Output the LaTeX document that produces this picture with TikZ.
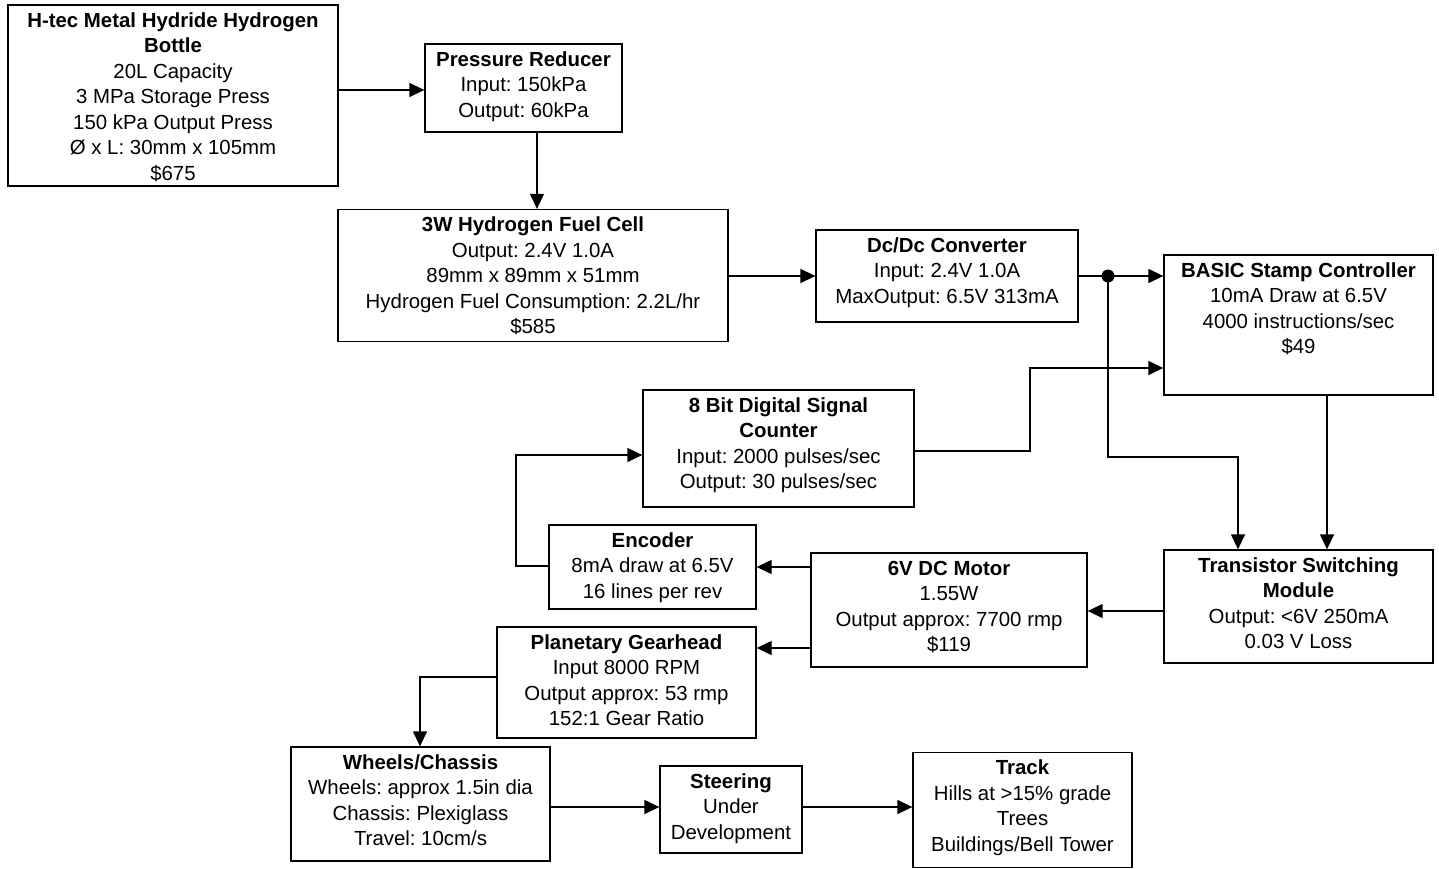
\documentclass[tikz,border=0pt]{standalone}
\usepackage{fontspec}
\setmainfont{Liberation Sans}
\usetikzlibrary{arrows.meta,calc}
\tikzset{
  box/.style={draw, line width=1.3pt, rectangle, inner sep=0pt},
  txt/.style={anchor=north, align=center, inner sep=0pt, font=\fontsize{20.4}{25.5}\selectfont\frenchspacing},
  arr/.style={line width=1.3pt, -{Triangle[length=15pt,width=14pt]}},
  wire/.style={line width=1.3pt}
}
\newcommand\mybox[6]{%
  \node[box, minimum width=#4, minimum height=#5] (#1) at (#2,#3) {};
  \node[txt] (#1-t) at ([yshift=-5pt]#1.north) {\strut #6};
}
\begin{document}
\begin{tikzpicture}[x=1pt,y=-1pt]
\useasboundingbox (0,0) rectangle (1439,869);
\mybox{bottle}{173}{95.5}{330}{181}{\textbf{H-tec Metal Hydride Hydrogen}\\\textbf{Bottle}\\20L Capacity\\3 MPa Storage Press\\150 kPa Output Press\\Ø x L: 30mm x 105mm\\\$675}
\mybox{pr}{523.5}{88}{197}{88}{\textbf{Pressure Reducer}\\Input: 150kPa\\Output: 60kPa}
\mybox{fc}{533}{275.5}{390}{132}{\textbf{3W Hydrogen Fuel Cell}\\Output: 2.4V 1.0A\\89mm x 89mm x 51mm\\Hydrogen Fuel Consumption: 2.2L/hr\\\$585}
\mybox{dc}{947}{276}{262}{92}{\textbf{Dc/Dc Converter}\\Input: 2.4V 1.0A\\MaxOutput: 6.5V 313mA}
\mybox{basic}{1298.5}{325}{269}{140}{\textbf{BASIC Stamp Controller}\\10mA Draw at 6.5V\\4000 instructions/sec\\\$49}
\mybox{cnt}{778.5}{448.5}{271}{117}{\textbf{8 Bit Digital Signal}\\\textbf{Counter}\\Input: 2000 pulses/sec\\Output: 30 pulses/sec}
\mybox{enc}{652.5}{567}{207}{84}{\textbf{Encoder}\\8mA draw at 6.5V\\16 lines per rev}
\mybox{motor}{949}{610}{276}{114}{\textbf{6V DC Motor}\\1.55W\\Output approx: 7700 rmp\\\$119}
\mybox{tsm}{1298.5}{606.5}{269}{113}{\textbf{Transistor Switching}\\\textbf{Module}\\Output: <6V 250mA\\0.03 V Loss}
\mybox{gear}{626.5}{682.5}{259}{111}{\textbf{Planetary Gearhead}\\Input 8000 RPM\\Output approx: 53 rmp\\152:1 Gear Ratio}
\mybox{wheels}{420.5}{804}{259}{114}{\textbf{Wheels/Chassis}\\Wheels: approx 1.5in dia\\Chassis: Plexiglass\\Travel: 10cm/s}
\mybox{steer}{731}{809.5}{142}{87}{\textbf{Steering}\\Under\\Development}
\mybox{track}{1022.5}{810}{219}{115}{\textbf{Track}\\Hills at >15\% grade\\Trees\\Buildings/Bell Tower}
% connectors
\draw[arr] (bottle.east |- 0,90) -- (pr.west |- 0,90);
\draw[arr] ([xshift=13.5pt]pr.south) -- ([xshift=13.5pt]pr.south |- fc.north);
\draw[arr] (fc.east |- 0,276) -- (dc.west |- 0,276);
\coordinate (j) at (1108,276);
\draw[arr] (dc.east |- 0,276) -- (basic.west |- 0,276);
\fill (j) circle (6.5pt);
\draw[arr] (j) -- (1108,457) -- (1238,457) -- (1238,0 |- tsm.north);
\draw[arr] (1327,0 |- basic.south) -- (1327,0 |- tsm.north);
\draw[arr] (tsm.west |- 0,611) -- (motor.east |- 0,611);
\draw[arr] (motor.west |- 0,567) -- (enc.east |- 0,567);
\draw[arr] (motor.west |- 0,648) -- (gear.east |- 0,648);
\draw[arr] (enc.west |- 0,566) -- (516,566) -- (516,455) -- (cnt.west |- 0,455);
\draw[arr] (cnt.east |- 0,451) -- (1030,451) -- (1030,368) -- (basic.west |- 0,368);
\draw[arr] (gear.west |- 0,677) -- (420,677) -- (420,0 |- wheels.north);
\draw[arr] (wheels.east |- 0,807) -- (steer.west |- 0,807);
\draw[arr] (steer.east |- 0,807) -- (track.west |- 0,807);
\end{tikzpicture}
\end{document}
